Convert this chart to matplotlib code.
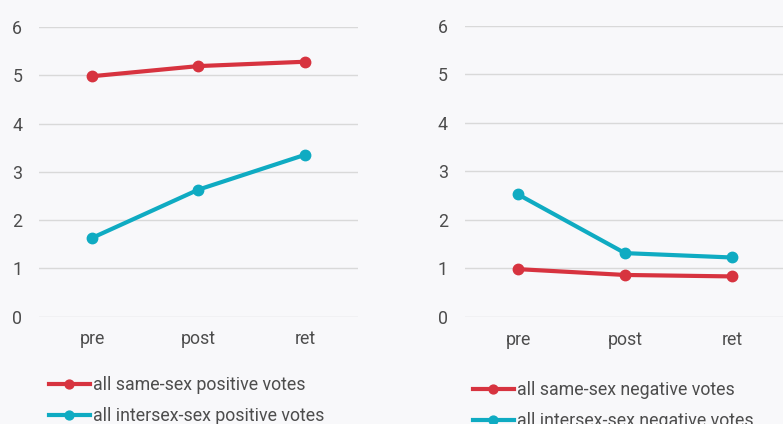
import matplotlib.pyplot as plt

# data
phases = ['pre', 'post', 'ret']
same_pos = [4.98, 5.19, 5.28]
inter_pos = [1.63, 2.63, 3.35]
same_neg = [0.98, 0.86, 0.83]
inter_neg = [2.52, 1.31, 1.22]

ticks_y = [0, 1, 2, 3, 4, 5, 6]

red = '#d7333f'
cyan = '#0fabc2'
bg = '#f8f8fa'
txt = '#4d4d4d'

plt.rcParams['font.family'] = ['Roboto', 'DejaVu Sans']

fig = plt.figure(figsize=(7.83, 4.24), dpi=100)
fig.patch.set_facecolor(bg)

W, H = 783, 424
fs = 12.8


def make_axes(x0, x1, ytop, ybot):
    ax = fig.add_axes([x0 / W, (H - ybot) / H, (x1 - x0) / W, (ybot - ytop) / H])
    ax.set_facecolor(bg)
    ax.set_xlim(-0.5, 2.5)
    ax.set_ylim(0, 6)
    ax.set_yticks(ticks_y)
    ax.set_xticks(range(len(phases)))
    ax.set_xticklabels(phases)
    for s in ax.spines.values():
        s.set_visible(False)
    ax.tick_params(axis='y', length=0, pad=12, labelsize=fs, labelcolor=txt)
    ax.tick_params(axis='x', length=0, pad=10, labelsize=fs, labelcolor=txt)
    ax.grid(axis='y', color='#d9d9d9', linewidth=1)
    ax.set_axisbelow(True)
    return ax


ax1 = make_axes(39, 358, 27, 316.5)
ax2 = make_axes(464.5, 785.5, 25.5, 316.7)

x = range(len(phases))
ax1.plot(x, same_pos, color=red, lw=3, marker='o', ms=7.5, label='all same-sex positive votes', clip_on=False)
ax1.plot(x, inter_pos, color=cyan, lw=3, marker='o', ms=7.5, label='all intersex-sex positive votes', clip_on=False)
ax2.plot(x, same_neg, color=red, lw=3, marker='o', ms=7.5, label='all same-sex negative votes', clip_on=False)
ax2.plot(x, inter_neg, color=cyan, lw=3, marker='o', ms=7.5, label='all intersex-sex negative votes', clip_on=False)

leg_kw = dict(frameon=False, fontsize=fs, handlelength=2.3, handletextpad=0.15,
              labelspacing=0.75, borderaxespad=0, borderpad=0, labelcolor=txt, markerscale=0.85)
fig.legend(*ax1.get_legend_handles_labels(), loc='upper left',
           bbox_to_anchor=(49 / W, 1 - 376 / H), **leg_kw)
fig.legend(*ax2.get_legend_handles_labels(), loc='upper left',
           bbox_to_anchor=(473 / W, 1 - 381 / H), **leg_kw)

fig.savefig('out.png', dpi=100, facecolor=bg)
